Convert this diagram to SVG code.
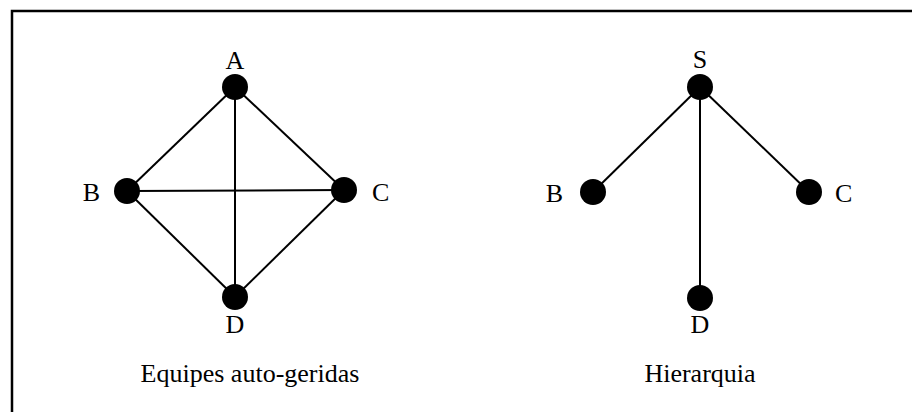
<svg xmlns="http://www.w3.org/2000/svg" width="912" height="412" viewBox="0 0 912 412">
<style>
.t{font-family:"Liberation Serif","Times New Roman",serif;font-size:26px;fill:#000}
.e{stroke:#000;stroke-width:2;fill:none}
.n{fill:#000}
</style>
<rect width="912" height="412" fill="#fff"/>
<path d="M12,412 V11 H912" fill="none" stroke="#000" stroke-width="2.5"/>
<g id="connectors">
<line class="e" x1="235" y1="87" x2="127" y2="191"/>
<line class="e" x1="235" y1="87" x2="344" y2="190"/>
<line class="e" x1="235" y1="87" x2="235" y2="297"/>
<line class="e" x1="127" y1="191" x2="344" y2="190"/>
<line class="e" x1="127" y1="191" x2="235" y2="297"/>
<line class="e" x1="344" y1="190" x2="235" y2="297"/>
<line class="e" x1="700" y1="87" x2="593" y2="192"/>
<line class="e" x1="700" y1="87" x2="809" y2="192"/>
<line class="e" x1="700" y1="87" x2="700" y2="298"/>
</g>
<g id="nA"><circle class="n" cx="235" cy="87" r="13"/><text class="t" x="235" y="69" text-anchor="middle">A</text></g>
<g id="nB"><circle class="n" cx="127" cy="191" r="13"/><text class="t" x="100" y="201" text-anchor="end">B</text></g>
<g id="nC"><circle class="n" cx="344" cy="190" r="13"/><text class="t" x="372" y="201">C</text></g>
<g id="nD"><circle class="n" cx="235" cy="297" r="13"/><text class="t" x="235" y="333" text-anchor="middle">D</text></g>
<g id="nS"><circle class="n" cx="700" cy="87" r="13"/><text class="t" x="700" y="68" text-anchor="middle">S</text></g>
<g id="nB2"><circle class="n" cx="593" cy="192" r="13"/><text class="t" x="563" y="202" text-anchor="end">B</text></g>
<g id="nC2"><circle class="n" cx="809" cy="192" r="13"/><text class="t" x="835" y="202">C</text></g>
<g id="nD2"><circle class="n" cx="700" cy="298" r="13"/><text class="t" x="700" y="333" text-anchor="middle">D</text></g>
<g id="captions">
<text class="t" x="250" y="382" text-anchor="middle">Equipes auto-geridas</text>
<text class="t" x="700" y="382" text-anchor="middle">Hierarquia</text>
</g>
</svg>
